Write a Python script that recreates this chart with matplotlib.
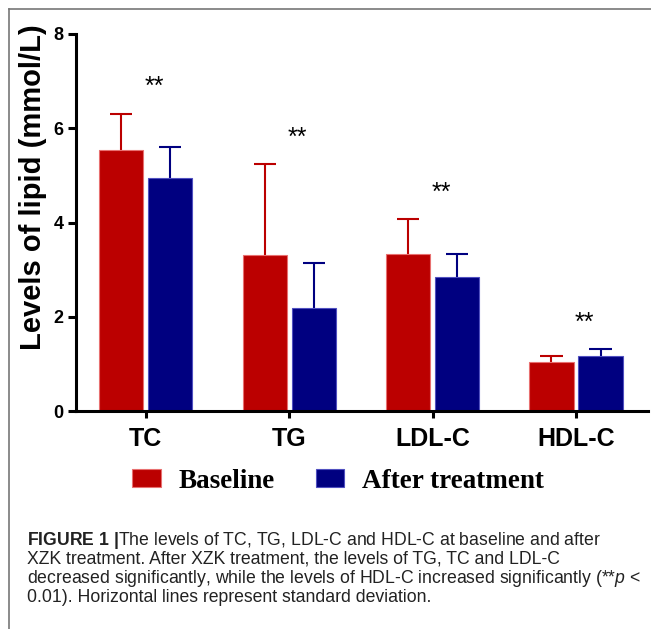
import matplotlib
matplotlib.use('Agg')
import matplotlib.pyplot as plt
from matplotlib.lines import Line2D
import numpy as np

# values (mmol/L)
categories = ['TC', 'TG', 'LDL-C', 'HDL-C']
baseline_mean = [5.53, 3.31, 3.33, 1.03]
baseline_sd = [0.78, 1.93, 0.74, 0.14]
after_mean = [4.95, 2.19, 2.84, 1.16]
after_sd = [0.65, 0.95, 0.49, 0.15]
series_labels = ['Baseline', 'After treatment']
stars = ['**', '**', '**', '**']
y_ticks = [0, 2, 4, 6, 8]
caption_lines = [
    r"$\bf{FIGURE\ 1\ |}$The levels of TC, TG, LDL-C and HDL-C at baseline and after",
    "XZK treatment. After XZK treatment, the levels of TG, TC and LDL-C",
    r"decreased significantly, while the levels of HDL-C increased significantly (**$\it{p}$ <",
    "0.01). Horizontal lines represent standard deviation.",
]

plt.rcParams['font.family'] = 'Liberation Sans'
plt.rcParams['mathtext.fontset'] = 'custom'
plt.rcParams['mathtext.rm'] = 'Liberation Sans'
plt.rcParams['mathtext.it'] = 'Liberation Sans:italic'
plt.rcParams['mathtext.bf'] = 'Liberation Sans:bold'

red = '#BB0000'
blue = '#000080'

fig = plt.figure(figsize=(6.51, 6.29), dpi=100)
ax = fig.add_axes([76 / 651, 1 - 411 / 629, (648 - 76) / 651, (411 - 34) / 629])

x = np.arange(len(categories))
w = 0.308
off = 0.171
cap = w / 2

# upper-only SD lines: stem plus cap, drawn behind the bars
for xs, means, sds, col in [(x - off, baseline_mean, baseline_sd, red),
                            (x + off, after_mean, after_sd, blue)]:
    tops = np.array(means) + np.array(sds)
    ax.vlines(xs, means, tops, color=col, lw=1.5, zorder=1)
    ax.hlines(tops, xs - cap / 2, xs + cap / 2, color=col, lw=1.5, zorder=1)

ax.bar(x - off, baseline_mean, w, color=red, edgecolor='#E87070', linewidth=0.8,
       label=series_labels[0], zorder=2)
ax.bar(x + off, after_mean, w, color=blue, edgecolor='#5050C0', linewidth=0.8,
       label=series_labels[1], zorder=2)

# significance marks above each pair
for i, s in enumerate(stars):
    top = max(baseline_mean[i] + baseline_sd[i], after_mean[i] + after_sd[i])
    ax.text(i + 0.06, top + 0.72 - 0.31, s, ha='center', va='baseline', fontsize=18)

ax.set_xlim(-0.486, 3.502)
ax.set_ylim(0, 8)
ax.set_yticks(y_ticks)
ax.set_xticks(x)
ax.set_xticklabels(categories, fontsize=18, fontweight='bold')
for lab in ax.get_yticklabels():
    lab.set_fontweight('bold')
    lab.set_fontsize(13)
for side in ['top', 'right']:
    ax.spines[side].set_visible(False)
for side in ['left', 'bottom']:
    ax.spines[side].set_linewidth(2.2)
ax.tick_params(axis='y', length=5.8, width=2.2, pad=3)
ax.tick_params(axis='x', length=5, width=2.2, pad=6.5)

fig.text(33 / 651, 1 - 187 / 629, 'Levels of lipid (mmol/L)', rotation=90,
         ha='center', va='center', fontsize=21, fontweight='bold')

fig.legend(loc='center', bbox_to_anchor=(338 / 651, 1 - 481 / 629), ncol=2,
           frameon=False, prop={'family': 'Liberation Serif', 'weight': 'bold', 'size': 19.5},
           handlelength=1.07, handleheight=0.67, handletextpad=0.65, columnspacing=1.5)

# caption
for k, line in enumerate(caption_lines):
    fig.text(27 / 651, 1 - (545 + 19 * k) / 629, line, ha='left', va='baseline',
             fontsize=12.7, color='#222222')

# page frame
fig.add_artist(Line2D([9 / 651, 9 / 651], [0, 1 - 9 / 629], color='#777777', lw=1.2))
fig.add_artist(Line2D([9 / 651, 1], [1 - 9 / 629, 1 - 9 / 629], color='#777777', lw=1.2))

fig.savefig('out.png', dpi=100)
